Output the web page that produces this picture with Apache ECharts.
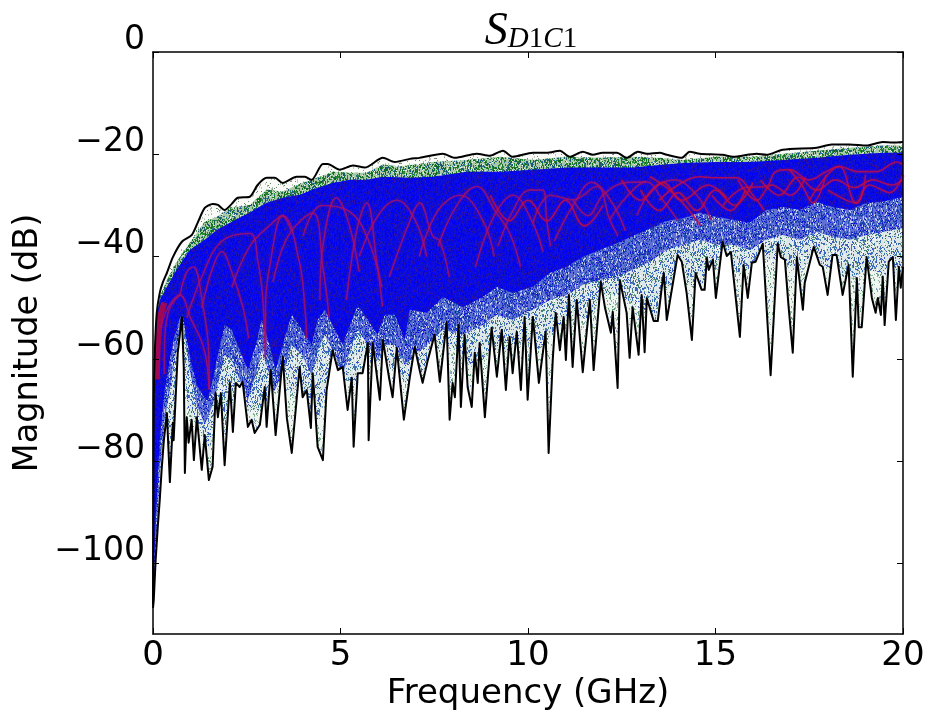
<!DOCTYPE html>
<html>
<head>
<meta charset="utf-8">
<title>S_D1C1</title>
<script src="https://cdn.jsdelivr.net/npm/echarts@6/dist/echarts.min.js"></script>
<style>
  html, body { margin: 0; padding: 0; background: #fff; }
  #chart { width: 930px; height: 719px; filter: blur(0.55px); }
</style>
</head>
<body>
<div id="chart"></div>
<script>
// all curves are [GHz, dB]
const xTicks = [0, 5, 10, 15, 20]
const yTicks = [0, -20, -40, -60, -80, -100]

// black line on top of the cloud
const upperEnvelope = [[0,-108],[0.01,-87.5],[0.02,-68],[0.05,-58.3],[0.10,-51],[0.18,-47.1],[0.26,-45.1],[0.37,-43.2],[0.53,-40.1],[0.77,-37.1],[1.03,-35.8],[1.19,-33.4],[1.38,-30.5],[1.59,-29.7],[1.73,-29.9],[1.91,-30.9],[2.10,-29.7],[2.26,-28.5],[2.58,-28.3],[2.79,-26],[3.03,-24.6],[3.25,-24.6],[3.46,-25.6],[3.83,-24.4],[4.05,-24.4],[4.23,-25],[4.53,-21.9],[4.66,-21.9],[4.98,-23],[5.33,-22.2],[5.65,-22.6],[6.13,-20.7],[6.45,-21.5],[6.85,-20.9],[7.11,-20.7],[7.73,-19.9],[8.05,-20.7],[8.63,-19.9],[8.98,-20.3],[9.33,-19.3],[9.59,-20.5],[10.13,-19.7],[10.50,-19.7],[10.85,-19.3],[11.11,-20.5],[11.46,-19.5],[11.73,-20.1],[11.99,-19.7],[12.37,-19.7],[12.63,-20.7],[12.93,-19.5],[13.17,-19.9],[13.51,-19.7],[13.70,-20.1],[14.10,-20.7],[14.31,-19.5],[14.58,-19.9],[15.19,-20.1],[15.46,-20.5],[16.10,-19.9],[16.36,-20.1],[16.79,-19.1],[17.70,-18.7],[18.10,-18.1],[18.58,-18.1],[19.03,-18.3],[19.46,-17.6],[19.73,-17.7],[20,-17.6]]

// black line under the cloud
const lowerEnvelope = [[0,-108.7],[0.02,-107.2],[0.07,-99.4],[0.13,-92.5],[0.18,-87.6],[0.23,-81.7],[0.29,-75.9],[0.37,-70.6],[0.45,-84.1],[0.53,-72.5],[0.55,-75.9],[0.66,-58.8],[0.77,-51.8],[0.82,-61.6],[0.85,-82.3],[0.90,-71.4],[0.95,-76.4],[1.03,-71.9],[1.09,-79.8],[1.17,-71.4],[1.30,-81.7],[1.38,-74.9],[1.49,-83.7],[1.59,-81.1],[1.67,-66.7],[1.73,-71.4],[1.81,-66.7],[1.91,-80.8],[2.05,-64.7],[2.13,-74.3],[2.21,-64.7],[2.31,-65.5],[2.39,-64.5],[2.53,-73.3],[2.63,-71.9],[2.71,-74.5],[2.85,-72.9],[2.98,-65.5],[3.03,-73.3],[3.14,-62.2],[3.27,-74.9],[3.46,-59.6],[3.57,-71.6],[3.70,-78.4],[3.83,-68],[3.91,-61.6],[3.99,-67.5],[4.10,-66.1],[4.21,-73.5],[4.26,-62.8],[4.39,-77.2],[4.53,-79.8],[4.63,-66.1],[4.79,-58.3],[4.93,-62.2],[5.06,-61.6],[5.19,-70],[5.30,-63.7],[5.35,-77.2],[5.46,-62.8],[5.59,-62.8],[5.73,-56.9],[5.75,-75.9],[5.86,-56.9],[6.05,-68],[6.13,-56.3],[6.29,-63.5],[6.39,-67.5],[6.50,-57.9],[6.69,-71.9],[6.85,-63.5],[6.98,-57.7],[7.11,-62.2],[7.19,-64.7],[7.33,-60.2],[7.51,-55.3],[7.65,-64.5],[7.83,-52.8],[7.91,-71.9],[7.99,-64.7],[8.05,-67.5],[8.15,-53.4],[8.21,-69.4],[8.31,-55.3],[8.39,-65.5],[8.50,-69.4],[8.58,-58.8],[8.66,-64.7],[8.71,-56.9],[8.85,-71.4],[9.03,-53.9],[9.17,-63.5],[9.30,-54.3],[9.41,-66.1],[9.51,-55.7],[9.59,-62.8],[9.70,-54.7],[9.81,-66.1],[9.91,-51.8],[9.99,-68],[10.13,-51.8],[10.29,-64.7],[10.47,-54.7],[10.55,-78.4],[10.66,-60.2],[10.74,-51],[10.85,-58.3],[10.95,-51.8],[11.01,-60.2],[11.09,-47.5],[11.19,-61.6],[11.30,-48.5],[11.46,-62.6],[11.65,-48.5],[11.75,-62.2],[11.94,-44.9],[12.05,-49.9],[12.21,-54.9],[12.26,-50.8],[12.39,-65.7],[12.45,-44.6],[12.63,-51],[12.71,-59.8],[12.79,-49.9],[12.95,-59.2],[13.03,-47.5],[13.11,-58.7],[13.17,-48.1],[13.35,-52.6],[13.46,-52.6],[13.57,-45.9],[13.62,-43.2],[13.70,-52.4],[13.91,-43.2],[13.99,-39.7],[14.10,-41],[14.23,-47.1],[14.37,-56.3],[14.47,-43.2],[14.63,-46.5],[14.71,-46.5],[14.77,-40.3],[14.82,-42.6],[14.93,-40.6],[15.01,-48.1],[15.19,-37.1],[15.30,-39.9],[15.41,-39.1],[15.65,-55.7],[15.75,-41.6],[15.86,-48.1],[15.97,-41.2],[16.07,-41],[16.26,-37.5],[16.47,-63.2],[16.66,-37.5],[16.74,-40.1],[16.85,-40.6],[16.95,-49.9],[17.06,-58.8],[17.17,-40.1],[17.33,-50.4],[17.38,-45.1],[17.62,-38.1],[17.78,-41.6],[17.86,-42],[17.99,-47.5],[18.12,-39.7],[18.23,-39.7],[18.39,-47.5],[18.55,-41.6],[18.66,-63.5],[18.77,-44.2],[18.82,-53.8],[18.90,-53.8],[19.03,-40.1],[19.17,-48.1],[19.27,-51],[19.33,-48.1],[19.41,-51.4],[19.46,-43.9],[19.51,-53.4],[19.62,-41],[19.73,-40.1],[19.81,-52.4],[19.89,-42],[19.94,-46.1],[20,-42]]

// top of the green fringe
const greenTop = [[0.05,-55.3],[0.18,-47.9],[0.37,-44.6],[0.63,-41],[0.98,-37.3],[1.38,-33.2],[1.70,-32.2],[2.05,-30.5],[2.58,-29.9],[3.03,-26.9],[3.46,-27.3],[3.91,-25.8],[4.37,-24.6],[4.79,-23.4],[5.25,-23.6],[5.70,-23.6],[6.13,-22],[6.58,-22.4],[7.46,-21.5],[8.37,-21.1],[9.25,-20.5],[10.13,-21.1],[11.03,-20.5],[11.91,-20.7],[12.79,-20.5],[13.51,-20.7],[14.13,-21.1],[15.03,-20.5],[15.91,-20.5],[16.79,-19.9],[17.70,-19.3],[18.58,-18.7],[19.46,-18.3],[20,-18.3]]

// edges of the solid blue body
const blueTop = [[0,-107],[0.02,-72],[0.05,-58],[0.10,-51.4],[0.18,-48.5],[0.37,-45.9],[0.63,-42.6],[0.98,-38.7],[1.38,-36.7],[1.70,-34.8],[2.05,-33.4],[2.58,-31.4],[3.03,-29.5],[3.46,-28.5],[3.91,-27.9],[4.37,-26.6],[4.79,-25.6],[5.25,-25],[5.70,-25],[6.13,-24.4],[6.85,-24.6],[7.46,-24.4],[8.37,-23.4],[9.25,-23.4],[10.13,-23],[11.03,-22.6],[11.91,-22.6],[12.79,-22.6],[13.51,-22.1],[14.13,-21.7],[15.03,-21.5],[15.91,-21.5],[16.79,-21.1],[17.70,-20.7],[18.58,-20.1],[19.46,-19.7],[20,-19.7]]
const blueBottom = [[0,-108],[0.07,-91.5],[0.18,-75.9],[0.31,-66.1],[0.45,-60.2],[0.58,-55.3],[0.71,-52],[0.79,-51.4],[0.90,-56.3],[1.03,-61.2],[1.17,-65.1],[1.33,-67.1],[1.46,-68.1],[1.59,-64.1],[1.73,-59.2],[1.91,-53.4],[2.10,-54.3],[2.31,-58.3],[2.53,-62.2],[2.74,-57.3],[2.90,-52.4],[3.11,-57.3],[3.27,-62.2],[3.46,-57.3],[3.70,-51.4],[3.97,-54.3],[4.23,-57.3],[4.39,-52.4],[4.58,-50.4],[4.85,-54.3],[5.06,-57.3],[5.25,-53.4],[5.46,-49.5],[5.73,-52.4],[5.99,-55.3],[6.18,-51.4],[6.45,-51.4],[6.71,-56.3],[6.85,-50.4],[7.30,-51],[7.73,-47.9],[8.26,-49.9],[8.79,-47.9],[9.17,-45.9],[9.59,-47.1],[10.13,-45.9],[10.58,-43.2],[11.03,-42],[11.46,-40.1],[11.91,-38.7],[12.37,-37.4],[12.79,-36],[13.25,-34.5],[13.51,-33.6],[13.70,-33],[14.13,-32.5],[14.58,-31.4],[15.03,-32.2],[15.46,-32.8],[15.91,-33.4],[16.36,-30.9],[16.79,-30.3],[17.25,-30.9],[17.70,-29.3],[18.12,-30.3],[18.58,-30.9],[19.03,-29.5],[19.46,-29.3],[20,-28.3]]

// where the blue speckle thins out into green and white
const fadeEdge = [[0.07,-99.4],[0.18,-81.7],[0.31,-72],[0.45,-66.1],[0.58,-60.2],[0.71,-54.3],[0.79,-52.4],[0.98,-62.2],[1.17,-69],[1.38,-72.9],[1.59,-69],[1.73,-65.1],[1.91,-59.2],[2.10,-60.2],[2.31,-64.1],[2.53,-68],[2.74,-63.2],[2.90,-58.3],[3.11,-63.2],[3.27,-68],[3.46,-63.2],[3.70,-57.3],[3.97,-59.2],[4.23,-63.2],[4.39,-58.3],[4.58,-55.3],[4.85,-59.2],[5.06,-63.2],[5.25,-58.3],[5.46,-54.3],[5.73,-57.3],[5.99,-60.2],[6.18,-57.3],[6.45,-57.3],[6.71,-61.2],[7.30,-57.3],[7.73,-54.3],[8.26,-55.3],[8.79,-53.4],[9.17,-51.4],[9.59,-52.4],[10.13,-50.4],[10.58,-48.5],[11.03,-47.5],[11.46,-45.5],[11.91,-44.6],[12.37,-44],[12.79,-42.6],[13.25,-41],[13.70,-38.7],[14.13,-37.7],[14.58,-36.7],[15.03,-37.7],[15.46,-37.7],[15.91,-38.7],[16.36,-36.7],[16.79,-35.8],[17.25,-36.7],[17.70,-35.2],[18.12,-36.1],[18.58,-36.7],[19.03,-35.8],[19.46,-35.2],[20,-34.4]]

// lowest reach of the thicker speckle
const speckleFloor = [[0.18,-91.5],[0.45,-79.8],[0.66,-68],[0.77,-56.3],[0.93,-70],[1.25,-73.9],[1.51,-77.8],[1.67,-72],[1.91,-73.9],[2.10,-68],[2.31,-68],[2.58,-70],[2.85,-70],[3.11,-68],[3.46,-63.2],[3.78,-68],[4.05,-68],[4.39,-72],[4.79,-61.2],[5.11,-64.1],[5.46,-65.1],[5.73,-61.2],[6.13,-60.2],[6.45,-62.2],[6.79,-65.1],[7.11,-65.1],[7.51,-58.3],[7.83,-57.3],[8.15,-58.3],[8.58,-62.2],[9.03,-58.3],[9.51,-58.3],[9.91,-56.3],[10.29,-58.3],[10.74,-54.3],[11.09,-51.4],[11.65,-52.4],[11.94,-47.5],[12.45,-47.5],[13.03,-50.4],[13.33,-54.3],[13.62,-47.5],[13.99,-43.6],[14.47,-46.5],[14.93,-43.6],[15.19,-39.7],[15.65,-43.6],[16.26,-40.6],[16.66,-40.6],[17.17,-42.6],[17.62,-40.6],[18.12,-42.6],[18.55,-44.6],[19.03,-42.6],[19.62,-43.6],[20,-44.6]]

// the red notch curves that show through the blue
const redCurves = [
  [[0.3,-63],[0.32,-55],[0.45,-50],[0.72,-47.5]],
  [[0.2,-54],[0.4,-50],[0.72,-47.5],[1,-52],[1.36,-58],[1.5,-66]],
  [[0.72,-47.5],[0.9,-43],[1.07,-42],[1.34,-50],[1.48,-58],[1.5,-66]],
  [[1.3,-50],[1.6,-42],[1.83,-39],[2.1,-43],[2.4,-50],[2.55,-56]],
  [[0.9,-52],[1.3,-44],[1.83,-37],[2.58,-35.5],[2.8,-41],[2.93,-48.5],[3,-60]],
  [[2.1,-46],[2.58,-38],[3.1,-34],[3.46,-32],[3.9,-41],[4.05,-50],[4.1,-56]],
  [[3,-58],[3,-50],[3.11,-42],[3.46,-32],[3.7,-35]],
  [[3.2,-45],[3.6,-36],[4.26,-31.5],[4.53,-42],[4.7,-52]],
  [[4.45,-48.5],[4.53,-38],[4.89,-28.5],[5.2,-33],[5.5,-43]],
  [[4,-36],[4.5,-30],[5.2,-31],[5.7,-36],[6.1,-46]],
  [[5.16,-48.5],[5.43,-35],[5.7,-29.5],[5.96,-40.6],[6.12,-49.8]],
  [[5.5,-40],[6,-32],[6.5,-29],[7,-33],[7.3,-40]],
  [[6.3,-44],[6.85,-33],[7.11,-29.5],[7.46,-36],[7.65,-37],[7.9,-44]],
  [[7.1,-40],[7.6,-31],[8.2,-28],[8.8,-33],[9.1,-40]],
  [[7.6,-38],[8.1,-30],[8.63,-26.3],[9.16,-31.5],[9.51,-35.4],[9.8,-42]],
  [[8.6,-42],[9.1,-32],[9.6,-28],[10.1,-33],[10.4,-39]],
  [[9.2,-38],[9.6,-31],[10.05,-27],[10.39,-27],[10.5,-33],[10.6,-38]],
  [[10.13,-33.4],[10.6,-28],[11.19,-28.9],[11.83,-26.3],[12.18,-32.8],[12.4,-36]],
  [[10.7,-37],[11.2,-30],[11.7,-25.5],[12.2,-29],[12.6,-35]],
  [[12.18,-32.8],[12.63,-28.3],[13.16,-25.4],[13.6,-29],[14,-33]],
  [[11.2,-29],[11.6,-32],[12,-28],[12.63,-25.5],[13.16,-25.4]],
  [[12.9,-32],[13.3,-27],[13.9,-25],[14.5,-28],[14.9,-33]],
  [[13.25,-24.4],[13.78,-27],[14.3,-31],[14.6,-34]],
  [[13.5,-29],[14,-26],[14.58,-24.4],[15,-24.6],[15.55,-24.6],[16,-28],[16.3,-31]],
  [[15.2,-30],[15.8,-26.5],[16.35,-26.3],[16.6,-23.4],[16.97,-23],[17.5,-25],[17.95,-23.4],[18.3,-22.4],[18.8,-23.4],[19.3,-23.4],[19.83,-21.5],[20,-22]],
  [[15.6,-25],[16.1,-29],[16.5,-26],[17,-28],[17.4,-24.5]],
  [[16.97,-23],[17.3,-26],[17.6,-29.5],[17.95,-24]],
  [[17.5,-29],[18.3,-22.4],[18.75,-29.5],[19.1,-26],[19.65,-27.5],[20,-24]],
  [[14.9,-28],[15.4,-31],[15.8,-27]],
  [[18,-27],[18.75,-29.5],[19,-24]],
  [[13,-27],[13.5,-31],[14,-27.5],[14.5,-31],[15,-27],[15.5,-30],[16,-25.5]],
  [[12.5,-25],[13,-29],[13.6,-25.5],[14.1,-29],[14.8,-26],[15.3,-28.5]],
  [[16.2,-25],[16.7,-28],[17.2,-24.5],[17.7,-27],[18.2,-25],[18.7,-26.5],[19.2,-25],[19.7,-26],[20,-25]],
  [[9,-28],[9.5,-33],[10,-29],[10.5,-33],[11,-29],[11.5,-34],[12,-30]]
]

// thick red mass hugging the y axis
const redEdge = [[0.1,-64],[0.13,-57],[0.2,-51.5],[0.3,-49]]

// purple haze inside the blue body
const purpleHaze = [[0.4,-48],[1.4,-39.5],[2.6,-34],[3.9,-30.5],[5.25,-28],[6.85,-27],[8.37,-26],[10.13,-25.5],[11.91,-25],[13.51,-24.5],[15.03,-24],[16.79,-23.5],[18.58,-22.5],[20,-22]]
const purpleHazeLow = [[2.6,-42],[5.25,-37],[8.37,-33],[11.91,-31],[15.03,-28],[20,-26]]

// faint dips below the lower black line: [GHz, top dB, bottom dB]
const faintDips = [[1.09,-95,-112],[1.07,-80,-84],[2.46,-79,-87],[2.85,-74,-76],[3.65,-78,-81],[6.99,-66,-76],[7.45,-62,-78],[8.05,-70,-76],[9.65,-67,-72],[10.3,-65,-76],[11.07,-64,-71],[11.6,-65,-69],[12.16,-62,-70],[10.9,-60,-63],[13.0,-58,-62],[13.9,-53,-62],[14.7,-49,-54],[16.9,-60,-65],[17.4,-49,-53],[18.15,-50,-60],[18.5,-48,-59],[19.45,-53,-58]]

const chartDom = document.getElementById('chart')
const myChart = echarts.init(chartDom)

// scatter hash, only used for the texture tile
function hash (n) {
  const v = Math.sin(n * 12.9898) * 43758.5453
  return v - Math.floor(v)
}

// little repeating tile of flecks for the cloud texture
function speckle (bg, colors, count) {
  const size = 256
  const tile = document.createElement('canvas')
  tile.width = size
  tile.height = size
  const ctx = tile.getContext('2d')
  ctx.fillStyle = bg
  ctx.fillRect(0, 0, size, size)
  for (let i = 0; i < count; i++) {
    ctx.fillStyle = colors[i % colors.length]
    const x = Math.floor(hash(i + 1) * size)
    const y = Math.floor(hash(i + 5000) * size)
    ctx.fillRect(x, y, 1, 1 + i % 2)
  }
  return { image: tile, repeat: 'repeat' }
}

function band (name, data, color) {
  return {
    name,
    type: 'line',
    data,
    silent: true,
    showSymbol: false,
    lineStyle: { width: 0 },
    areaStyle: { color, opacity: 1, origin: 'start' }
  }
}

// plain stroke, used for the soft band edges and the red web
function stroke (name, data, z, color, width, opacity, smooth) {
  return {
    name,
    type: 'line',
    data,
    smooth: smooth || false,
    silent: true,
    showSymbol: false,
    z,
    lineStyle: { color, width, opacity, join: 'round' }
  }
}

const redSeries = []
redCurves.forEach((curve, i) => {
  const color = i < 22 ? '#a81068' : '#c80c40'
  redSeries.push(stroke('glow' + i, curve, 3, color, 5, 0.12, 0.4))
  redSeries.push(stroke('red' + i, curve, 3, color, 1.6, 0.8, 0.4))
})

const dipData = []
faintDips.forEach(d => {
  dipData.push([d[0], d[1]], [d[0], d[2]], null)
})

const axisColor = { color: '#000', width: 1.5 }

const option = {
  animation: false,
  backgroundColor: '#fff',
  textStyle: { fontFamily: 'DejaVu Sans' },
  title: {
    text: '{s|S}{d|D}{n|1}{d|C}{n|1}',
    left: 526,
    top: 4,
    textAlign: 'center',
    textStyle: {
      fontWeight: 'normal',
      rich: {
        s: { fontFamily: 'Liberation Serif', fontStyle: 'italic', fontWeight: 'normal', fontSize: 46, color: '#000' },
        d: { fontFamily: 'Liberation Serif', fontStyle: 'italic', fontWeight: 'normal', fontSize: 29, color: '#000', padding: [14, 0, 0, 0] },
        n: { fontFamily: 'Liberation Serif', fontWeight: 'normal', fontSize: 29, color: '#000', padding: [14, 0, 0, 0] }
      }
    }
  },
  grid: { left: 153, right: 27, top: 52, bottom: 85, outerBoundsMode: 'none' },
  xAxis: [
    {
      type: 'value',
      min: 0,
      max: 20,
      interval: 5,
      name: 'Frequency (GHz)',
      nameLocation: 'middle',
      nameGap: 43,
      nameMoveOverlap: false,
      nameTextStyle: { fontSize: 34, color: '#000' },
      z: 10,
      axisLine: { onZero: false, lineStyle: axisColor },
      axisTick: { inside: true, length: 6, lineStyle: { color: '#000' } },
      axisLabel: { color: '#000', fontSize: 34, margin: 5, customValues: xTicks },
      splitLine: { show: false }
    },
    {
      type: 'value',
      position: 'top',
      min: 0,
      max: 20,
      interval: 5,
      z: 10,
      axisLine: { onZero: false, lineStyle: axisColor },
      axisTick: { inside: true, length: 6, lineStyle: { color: '#000' } },
      axisLabel: { show: false },
      splitLine: { show: false }
    }
  ],
  yAxis: [
    {
      type: 'value',
      min: -113.8,
      max: 0,
      name: 'Magnitude (dB)',
      nameLocation: 'middle',
      nameGap: 108,
      nameMoveOverlap: false,
      nameTextStyle: { fontSize: 33.5, color: '#000' },
      z: 10,
      axisLine: { onZero: false, lineStyle: axisColor },
      axisTick: { inside: true, length: 6, lineStyle: { color: '#000' }, customValues: yTicks },
      axisLabel: {
        color: '#000',
        fontSize: 33,
        margin: 8,
        verticalAlign: 'bottom',
        lineHeight: 24,
        customValues: yTicks,
        formatter: v => String(v).replace('-', '\u2212')
      },
      splitLine: { show: false }
    },
    {
      type: 'value',
      position: 'right',
      min: -113.8,
      max: 0,
      z: 10,
      axisLine: { onZero: false, lineStyle: axisColor },
      axisTick: { inside: true, length: 6, lineStyle: { color: '#000' }, customValues: yTicks },
      axisLabel: { show: false },
      splitLine: { show: false }
    }
  ],
  series: [
    band('fringe', upperEnvelope, speckle('#fafbf9', ['#7f9080', '#a8b8a8', '#5f8a60', '#c0c8c0'], 4000)),
    band('green', greenTop, speckle('#a8c8a8', ['#1f7a2a', '#2a8a34', '#2f6fa0', '#0f6a20', '#e8f0e8', '#1a5a70'], 34000)),
    band('blue', blueTop, speckle('#0c0cdc', ['#0000f4', '#3010a8', '#0404e8', '#1818b0', '#0000ff'], 26000)),
    band('blueSpeckle', blueBottom, speckle('#6070d4', ['#0c10d0', '#1f3fb0', '#2060a8', '#c0cce8', '#1010e0', '#2040b8'], 30000)),
    band('fade', fadeEdge, speckle('#dde7e8', ['#3f7f70', '#3f78b8', '#5f9878', '#4060c0', '#3450c8', '#f4f8f6'], 22000)),
    band('speckle', speckleFloor, speckle('#eef4ef', ['#7fae90', '#80a0cc', '#90bc98', '#5f9478', '#ffffff'], 12000)),
    band('below', lowerEnvelope, '#fff'),
    stroke('haze', purpleHaze, 2, '#4a0c90', 14, 0.4, 0.3),
    stroke('hazeLow', purpleHazeLow, 2, '#5a1090', 26, 0.18, 0.3),
    stroke('blueSoft', blueBottom.slice(3), 2, '#1018c8', 9, 0.3),
    stroke('dips', dipData, 2, '#8c8cb4', 1.5, 0.55),
    stroke('redEdge', redEdge, 3, '#b8083c', 6, 0.85),
    ...redSeries,
    stroke('upper', upperEnvelope, 5, '#000', 2, 1, 0.25),
    stroke('lower', lowerEnvelope, 5, '#000', 2, 1)
  ]
}

myChart.setOption(option)
</script>
</body>
</html>
